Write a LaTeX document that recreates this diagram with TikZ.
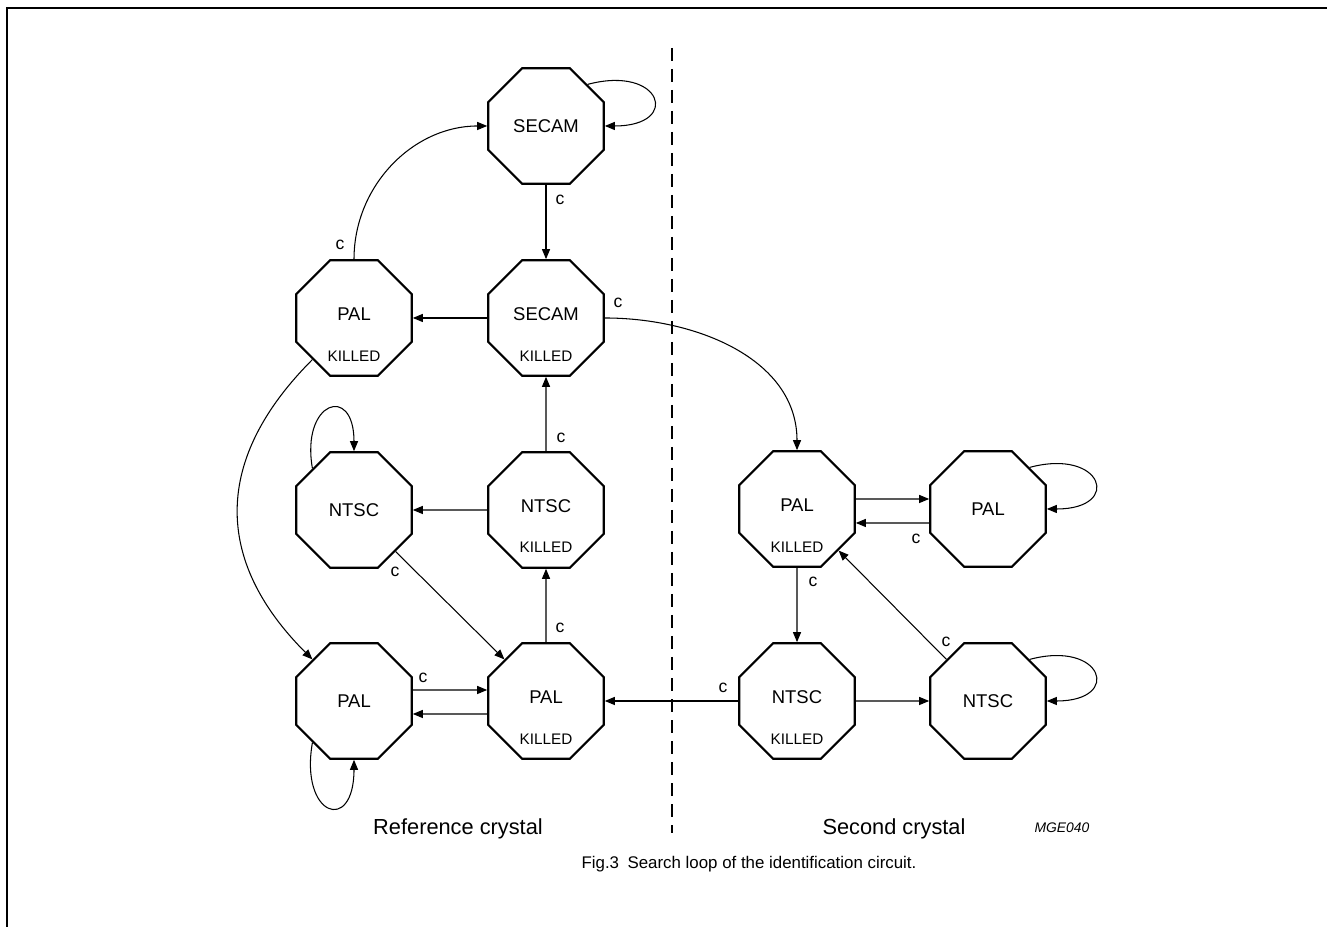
\documentclass[tikz,border=0pt]{standalone}
\usepackage{fontspec}
\setmainfont{Liberation Sans}
\usetikzlibrary{shapes.geometric,arrows.meta}

\begin{document}
\begin{tikzpicture}[x=0.2mm, y=0.2mm]
  \useasboundingbox (0,0) rectangle (1327,927);

  % ---- Frame ------------------------------------------------------
  \draw[line width=0.45mm] (1327,919) -- (7,919) -- (7,0);

  % ---- Styles -----------------------------------------------------
  \tikzstyle{state}=[regular polygon, regular polygon sides=8, draw,
                     line width=1.2pt, minimum size=25mm, inner sep=0pt,
                     font=\fontsize{10.5}{12}\selectfont]
  \tikzstyle{killed}=[inner sep=0pt, font=\fontsize{8.7}{10}\selectfont]
  \tikzstyle{clbl}=[inner sep=0pt, font=\fontsize{10}{12}\selectfont]
  \tikzstyle{conn}=[line width=0.6pt, -{Triangle[length=2mm,width=1.6mm]}]

  % ---- Reference crystal (left) -----------------------------------
  \node[state] (secam)  at (546,801) {SECAM};
  \node[state] (secamk) at (546,609) {\raisebox{1.6mm}{SECAM}};
  \node[state] (palk)   at (354,609) {\raisebox{1.6mm}{PAL}};
  \node[state] (ntsc)   at (354,417) {NTSC};
  \node[state] (ntsck)  at (546,417) {\raisebox{1.6mm}{NTSC}};
  \node[state] (pal)    at (354,226) {PAL};
  \node[state] (palkb)  at (546,226) {\raisebox{1.6mm}{PAL}};

  % ---- Second crystal (right) -------------------------------------
  \node[state] (rpalk)  at (797,418) {\raisebox{1.6mm}{PAL}};
  \node[state] (rpal)   at (988,418) {PAL};
  \node[state] (rntsck) at (797,226) {\raisebox{1.6mm}{NTSC}};
  \node[state] (rntsc)  at (988,226) {NTSC};

  % ---- KILLED tags ------------------------------------------------
  \node[killed] (secamk-k) at ([yshift=-7.7mm]secamk.center) {KILLED};
  \node[killed] (palk-k)   at ([yshift=-7.7mm]palk.center)   {KILLED};
  \node[killed] (ntsck-k)  at ([yshift=-7.5mm]ntsck.center)  {KILLED};
  \node[killed] (palkb-k)  at ([yshift=-7.7mm]palkb.center)  {KILLED};
  \node[killed] (rpalk-k)  at ([yshift=-7.7mm]rpalk.center)  {KILLED};
  \node[killed] (rntsck-k) at ([yshift=-7.6mm]rntsck.center) {KILLED};

  % ---- Transitions, left side -------------------------------------
  \draw[conn] (secam.north east) to[out=15, in=0, distance=15.4mm] (secam.east);
  \draw[conn] (secam.south) -- (secamk.north);
  \draw[conn] (secamk.west) -- (palk.east);
  \draw[conn] (palk.north) to[out=90, in=180] (secam.west);
  \draw[conn] (palk.south west) to[out=225, in=135, looseness=1.2] (pal.north west);
  \draw[conn] (ntsc.north west) to[out=100, in=90, distance=13.6mm] (ntsc.north);
  \draw[conn] (ntsck.west) -- (ntsc.east);
  \draw[conn] (ntsck.north) -- (secamk.south);
  \draw[conn] (ntsc.south east) -- (palkb.north west);
  \draw[conn] (palkb.north) -- (ntsck.south);
  \draw[conn] ([yshift=2.2mm]pal.east) -- ([yshift=2.2mm]palkb.west);
  \draw[conn] ([yshift=-2.6mm]palkb.west) -- ([yshift=-2.6mm]pal.east);
  \draw[conn] (pal.south west) to[out=260, in=270, distance=15mm] (pal.south);

  % ---- Transitions, right side ------------------------------------
  \draw[conn] (secamk.east) to[out=0, in=90] (rpalk.north);
  \draw[conn] ([yshift=2mm]rpalk.east) -- ([yshift=2mm]rpal.west);
  \draw[conn] ([yshift=-2.8mm]rpal.west) -- ([yshift=-2.8mm]rpalk.east);
  \draw[conn] (rpal.north east) to[out=15, in=0, distance=15.2mm] (rpal.east);
  \draw[conn] (rpalk.south) -- (rntsck.north);
  \draw[conn] (rntsck.east) -- (rntsc.west);
  \draw[conn] (rntsck.west) -- (palkb.east);
  \draw[conn] (rntsc.north west) -- (rpalk.south east);
  \draw[conn] (rntsc.north east) to[out=15, in=0, distance=15.2mm] (rntsc.east);

  % ---- c labels ---------------------------------------------------
  \node[clbl] (c1)  at (560,727) {c};
  \node[clbl] (c2)  at (340,682) {c};
  \node[clbl] (c3)  at (618,624) {c};
  \node[clbl] (c4)  at (561,489) {c};
  \node[clbl] (c5)  at (395,355) {c};
  \node[clbl] (c6)  at (560,299) {c};
  \node[clbl] (c7)  at (423,249) {c};
  \node[clbl] (c8)  at (723,239) {c};
  \node[clbl] (c9)  at (916,388) {c};
  \node[clbl] (c10) at (813,345) {c};
  \node[clbl] (c11) at (946,285) {c};

  % ---- Divider and captions ---------------------------------------
  \draw[line width=0.6pt, dash pattern=on 2.6mm off 1.6mm] (672,879) -- (672,94);

  \node[anchor=base, font=\fontsize{12.4}{14}\selectfont] (refx) at (458,92) {Reference crystal};
  \node[anchor=base, font=\fontsize{12.4}{14}\selectfont] (secx) at (894,92) {Second crystal};
  \node[anchor=base, font=\fontsize{7.9}{9}\itshape] (code) at (1062,94) {MGE040};
  \node[anchor=base, font=\fontsize{9.6}{12}\selectfont] (fig) at (749,58)
    {Fig.3\hspace{0.5em}Search loop of the identification circuit.};
\end{tikzpicture}
\end{document}
